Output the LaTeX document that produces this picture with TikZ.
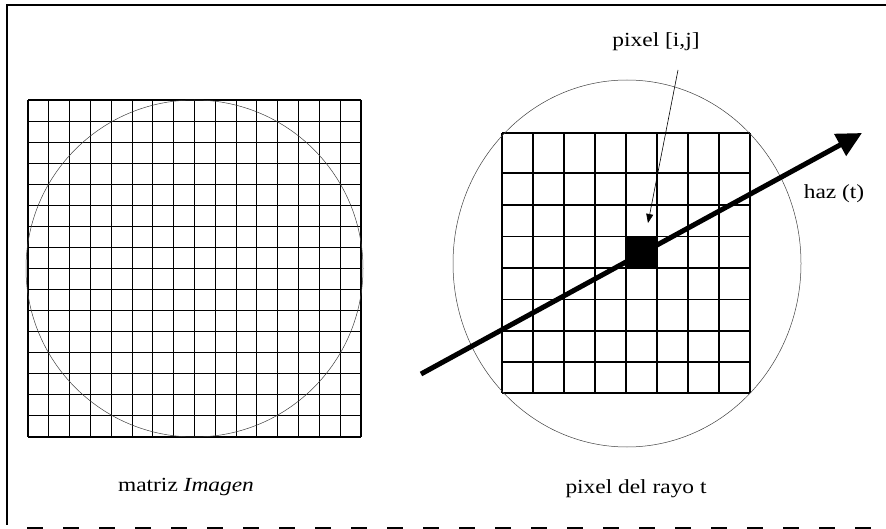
\documentclass[tikz,border=0pt]{standalone}
\usepackage{fontspec}
\setmainfont[FakeStretch=1.17]{Liberation Serif}
\usetikzlibrary{arrows.meta}

\begin{document}
\begin{tikzpicture}[x=1pt,y=-1pt]
\tikzstyle{gridline}=[line width=1.1pt]
\tikzstyle{ring}=[line width=0.5pt,black!75]
\tikzstyle{caption}=[font=\fontsize{20}{22}\selectfont,inner sep=0pt]
\useasboundingbox (0,0) rectangle (886,529);

% Frame
\draw[line width=1.3pt] (886,5) -- (7,5) -- (7,525);
\draw[line width=1.3pt,dash pattern=on 16pt off 20pt] (27,528) -- (886,528);

% Left: image matrix, 16 x 16
\foreach \i in {0,...,16} {
  \draw[gridline] (28+\i*20.8125,100) -- (28+\i*20.8125,437);
  \draw[gridline] (28,100+\i*21.0625) -- (361,100+\i*21.0625);
}
\draw[ring] (194.5,268.5) circle [radius=168.5];
\node[caption] (leftcap) at (186,487) {matriz \textit{Imagen}};

% Right: pixels crossed by ray t
\foreach \i in {0,...,8}
  \draw[gridline] (502+\i*31,133) -- (502+\i*31,393);
\foreach \y in {133,173,205,236.5,268,299.5,331,362,393}
  \draw[gridline] (502,\y) -- (750,\y);
\draw[ring] (627,263.5) ellipse [x radius=174,y radius=183.5];
\node[fill=black,minimum width=31pt,minimum height=31.5pt,inner sep=0pt] (pixij) at (641.5,252.25) {};
\node[caption] (rightcap) at (636,489) {pixel del rayo t};

% Ray
\coordinate (haztail) at (421,374);
\coordinate (haztip) at (862,133);
\draw[line width=5pt,-{Triangle[length=25pt,width=24pt]}] (haztail) -- (haztip);
\node[caption] (hazlabel) at (834,194) {haz (t)};

% Pixel label
\node[caption] (ijlabel) at (656,42) {pixel [i,j]};
\coordinate (ijtail) at (678,70);
\coordinate (ijtip) at (648,223);
\draw[line width=0.6pt,-{Triangle[length=9pt,width=7pt]}] (ijtail) -- (ijtip);
\end{tikzpicture}
\end{document}
